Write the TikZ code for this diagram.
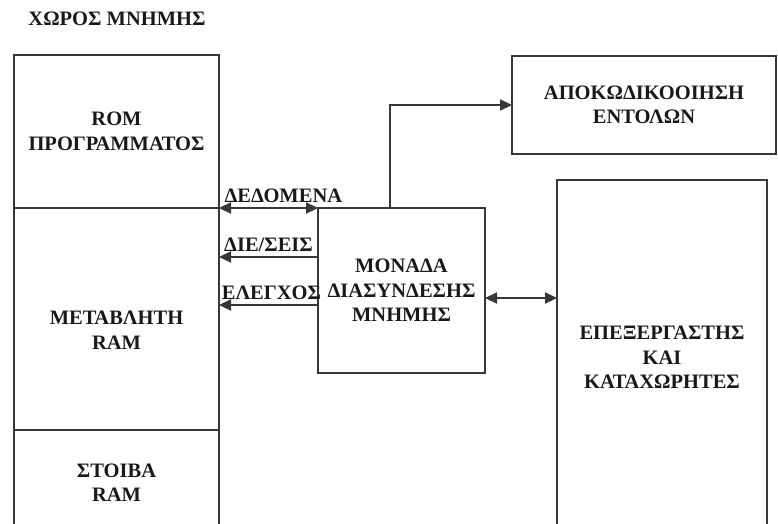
\documentclass[tikz,border=0pt]{standalone}
\usepackage{fontspec}
\setmainfont{Liberation Serif}
\usetikzlibrary{arrows.meta, positioning}
\definecolor{edge}{RGB}{55, 55, 55}
\definecolor{ink}{RGB}{25, 25, 25}

\begin{document}
\begin{tikzpicture}[
    x=1pt, y=-1pt,
    block/.style={
        rectangle, draw=edge, line width=2pt, outer sep=0pt, inner sep=0pt,
        font=\fontsize{20.5}{24.5}\selectfont\bfseries, text=ink, align=center
    },
    txt/.style={
        font=\fontsize{20.5}{24.5}\selectfont\bfseries, text=ink, align=center
    },
    op/.style={
        {Triangle[length=12pt, width=11pt]}-{Triangle[length=12pt, width=11pt]},
        draw=edge, line width=2.2pt
    },
    oneway/.style={
        -{Triangle[length=12pt, width=11pt]}, draw=edge, line width=2.2pt
    }
]
\useasboundingbox (0,0) rectangle (778,524);

% Memory space (left column)
\node[txt] (title) at (117,19) {ΧΩΡΟΣ ΜΝΗΜΗΣ};
\node[block, minimum width=205pt, minimum height=153pt] (rom) at (116.5,131.5) {ROM\\ΠΡΟΓΡΑΜΜΑΤΟΣ};
\node[block, minimum width=205pt, minimum height=222pt] (ram) at (116.5,319) {};
\node[txt] (ramtxt) at (116.5,330) {ΜΕΤΑΒΛΗΤΗ\\RAM};
\node[block, minimum width=205pt, minimum height=105pt] (stack) at (116.5,482.5) {ΣΤΟΙΒΑ\\RAM};

% Memory interface unit
\node[block, minimum width=167pt, minimum height=165pt] (iface) at (401.5,290.5) {ΜΟΝΑΔΑ\\ΔΙΑΣΥΝΔΕΣΗΣ\\ΜΝΗΜΗΣ};

% Instruction decoding and processor
\node[block, minimum width=264pt, minimum height=97pt] (decode) at (644,105) {ΑΠΟΚΩΔΙΚΟΟΙΗΣΗ\\ΕΝΤΟΛΩΝ};
\node[block, minimum width=210pt, minimum height=355pt] (cpu) at (662,357.5) {ΕΠΕΞΕΡΓΑΣΤΗΣ\\ΚΑΙ\\ΚΑΤΑΧΩΡΗΤΕΣ};

% Buses between memory and interface
\draw[op] (rom.south east) -- node[txt, above=1pt, pos=0.65] {ΔΕΔΟΜΕΝΑ} (iface.north west);

\coordinate (addr) at ([yshift=33.5pt]iface.west);
\draw[oneway] (addr) -- node[txt, above=1pt, pos=0.5] {ΔΙΕ/ΣΕΙΣ} (addr -| ram.east);

\coordinate (ctrl) at ([yshift=-14.5pt]iface.west);
\draw[oneway] (ctrl) -- node[txt, above=1pt, pos=0.47] {ΕΛΕΓΧΟΣ} (ctrl -| ram.east);

% Interface to processor and decoder
\coordinate (bus) at ([yshift=-7.5pt]iface.east);
\draw[op] (bus) -- (bus -| cpu.west);
\draw[oneway] ([xshift=-11.5pt]iface.north) |- (decode.west);

\end{tikzpicture}
\end{document}
